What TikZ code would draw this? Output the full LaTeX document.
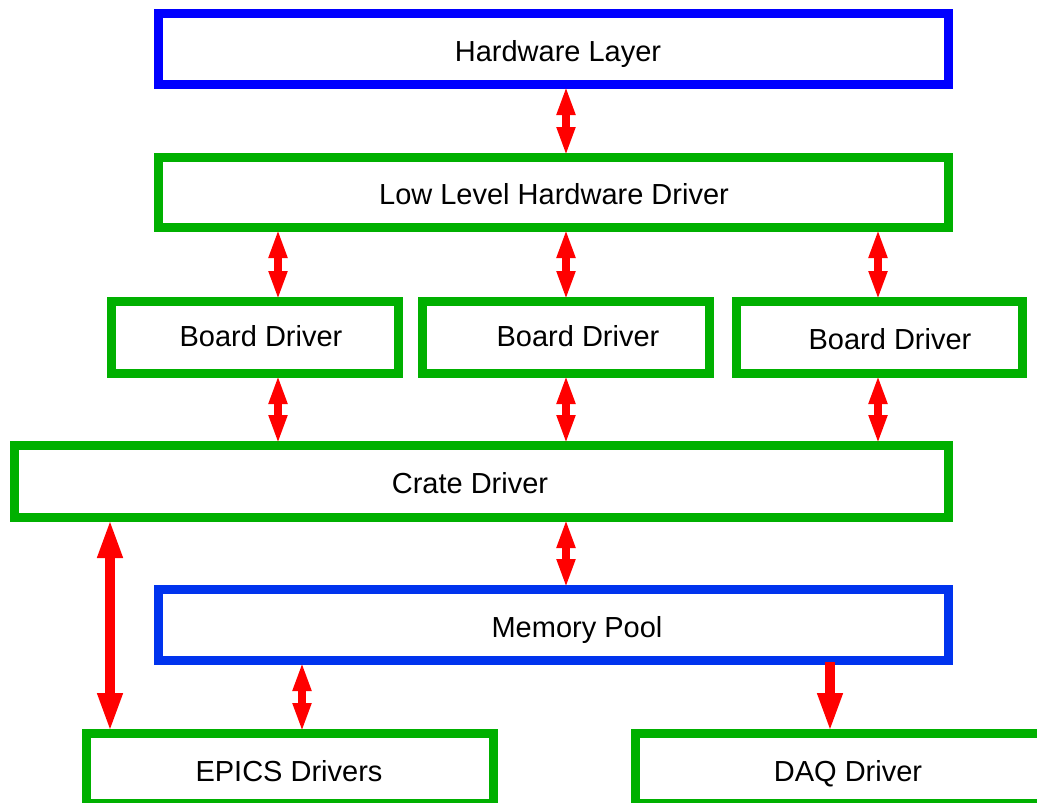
\documentclass[tikz,border=0pt]{standalone}
\usepackage{fontspec}
\setmainfont{Liberation Sans}
\usetikzlibrary{arrows.meta}
\definecolor{boxgreen}{RGB}{0,176,0}
\definecolor{boxblue}{RGB}{0,0,255}
\definecolor{poolblue}{RGB}{0,51,238}
\tikzset{
  layer/.style={draw, line width=9pt, fill=white, outer sep=1.5pt, inner sep=0pt},
  gbox/.style={layer, draw=boxgreen},
  bbox/.style={layer, draw=boxblue},
  pbox/.style={layer, draw=poolblue},
  lbl/.style={anchor=base, inner sep=0pt, font=\fontsize{29}{34}\selectfont},
  dbl/.style={draw=red, line width=8pt,
    {Triangle[length=29pt,width=17pt]}-{Triangle[length=29pt,width=17pt]}},
  dblbig/.style={draw=red, line width=9.5pt,
    {Triangle[length=39pt,width=23pt]}-{Triangle[length=39pt,width=23pt]}},
  onebig/.style={draw=red, line width=9.5pt,
    -{Triangle[length=39pt,width=23pt]}},
}
\begin{document}
\begin{tikzpicture}[x=1pt,y=-1pt]
\useasboundingbox (0,0) rectangle (1037,803);
\clip (0,0) rectangle (1037,803);

% layer boxes
\node[bbox, minimum width=790pt, minimum height=71pt] (hw)    at (553.5,49) {};
\node[gbox, minimum width=790pt, minimum height=70pt] (lld)   at (553.5,192.5) {};
\node[gbox, minimum width=287pt, minimum height=72pt] (bd1)   at (255,337.5) {};
\node[gbox, minimum width=287pt, minimum height=72pt] (bd2)   at (566,337.5) {};
\node[gbox, minimum width=286pt, minimum height=72pt] (bd3)   at (879.5,337.5) {};
\node[gbox, minimum width=934pt, minimum height=72pt] (crate) at (481.5,481.5) {};
\node[pbox, minimum width=790pt, minimum height=71pt] (mem)   at (553.5,625) {};
\node[gbox, minimum width=407pt, minimum height=70pt] (epics) at (290,768.5) {};
\node[gbox, minimum width=410pt, minimum height=70pt] (daq)   at (840.5,768.5) {};

% labels
\node[lbl] (thw)    at (558,61.5)   {Hardware Layer};
\node[lbl] (tlld)   at (554,204.5)  {Low Level Hardware Driver};
\node[lbl] (tbd1)   at (261,346.5)  {Board Driver};
\node[lbl] (tbd2)   at (578,346.5)  {Board Driver};
\node[lbl] (tbd3)   at (890,349.5)  {Board Driver};
\node[lbl] (tcrate) at (470,493.5)  {Crate Driver};
\node[lbl] (tmem)   at (577,637.5)  {Memory Pool};
\node[lbl] (tepics) at (289,781.5)  {EPICS Drivers};
\node[lbl] (tdaq)   at (848,781.5)  {DAQ Driver};

% connector columns
\coordinate (c110) at (110,0);
\coordinate (c278) at (278,0);
\coordinate (c302) at (302,0);
\coordinate (c566) at (566,0);
\coordinate (c830) at (830,0);
\coordinate (c878) at (878,0);

% connectors
\draw[dbl] (hw.south -| c566) -- (lld.north -| c566);
\draw[dbl] (lld.south -| c278) -- (bd1.north -| c278);
\draw[dbl] (lld.south -| c566) -- (bd2.north -| c566);
\draw[dbl] (lld.south -| c878) -- (bd3.north -| c878);
\draw[dbl] (bd1.south -| c278) -- (crate.north -| c278);
\draw[dbl] (bd2.south -| c566) -- (crate.north -| c566);
\draw[dbl] (bd3.south -| c878) -- (crate.north -| c878);
\draw[dbl] (crate.south -| c566) -- (mem.north -| c566);
\draw[dblbig] (crate.south -| c110) -- (epics.north -| c110);
\draw[dbl] (mem.south -| c302) -- (epics.north -| c302);
\draw[onebig] (mem.south -| c830) -- (daq.north -| c830);
\end{tikzpicture}
\end{document}
